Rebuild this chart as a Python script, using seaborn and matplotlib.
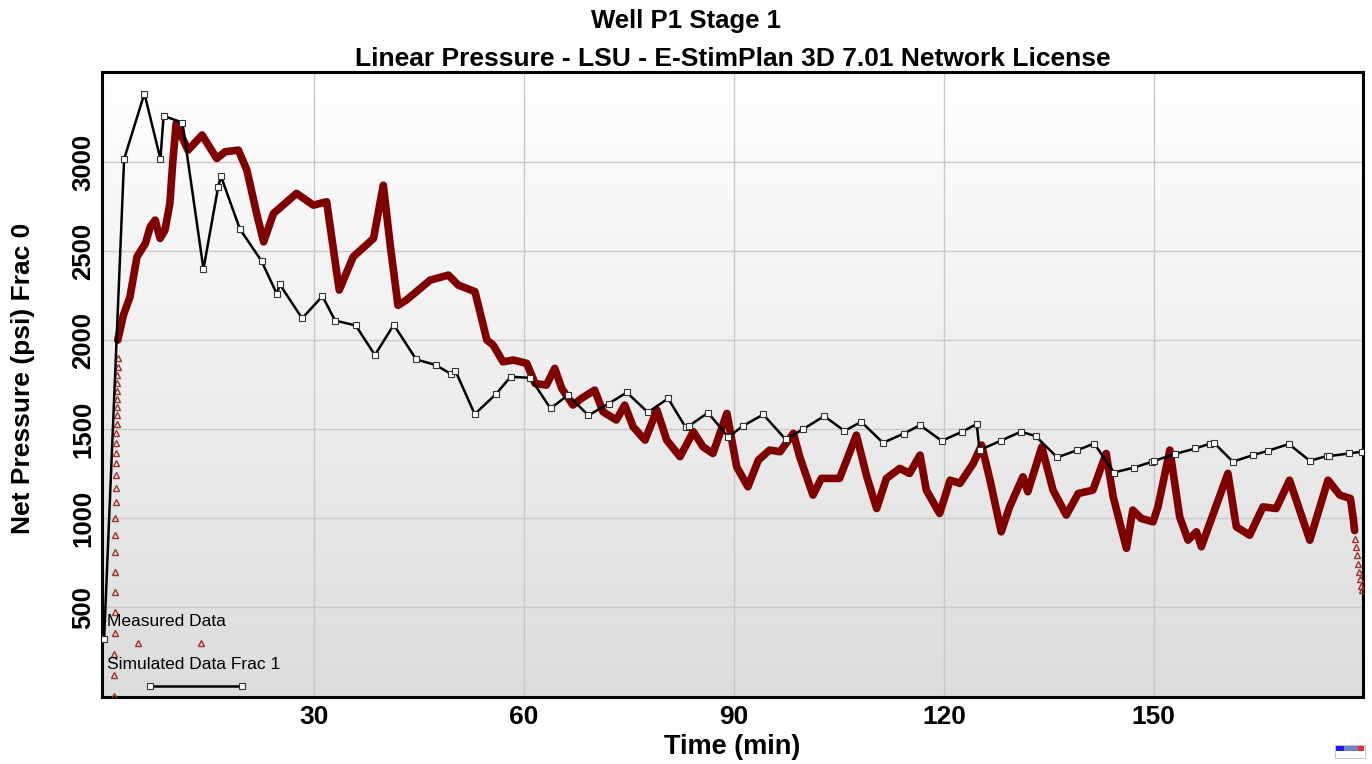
import numpy as np
import pandas as pd
import matplotlib
matplotlib.use("Agg")
import matplotlib.pyplot as plt
from matplotlib.colors import LinearSegmentedColormap
from matplotlib.patches import Rectangle
import seaborn as sns

# measured data - sparse start (triangles only)
meas_start_t = [1.47, 1.47, 1.47, 1.5, 1.5, 1.52, 1.55, 1.57, 1.6, 1.62, 1.64, 1.66, 1.68,
                1.7, 1.72, 1.74, 1.76, 1.78, 1.8, 1.82, 1.84, 1.86, 1.88, 1.9, 1.92, 1.94]
meas_start_p = [0, 118, 236, 354, 472, 584, 698, 807, 904, 998, 1088, 1167, 1242,
                1307, 1367, 1423, 1479, 1526, 1579, 1625, 1667, 1715, 1760, 1805, 1850, 1900]

# measured data - dense part (thick band)
meas_t = [1.95, 2.76, 3.7, 4.7, 5.9, 6.6, 7.3, 8.0, 8.7, 9.4, 9.8, 10.3, 11.1, 12.0, 14.0,
          16.1, 17.3, 19.2, 20.4, 21.8, 22.8, 24.2, 27.5, 29.9, 31.8, 33.6, 35.6, 38.5,
          39.9, 40.9, 42.0, 43.2, 46.6, 49.2, 50.6, 53.0, 54.7, 55.6, 57.0, 58.5, 60.4,
          61.6, 63.2, 64.4, 65.4, 67.0, 68.2, 70.1, 71.3, 73.2, 74.4, 75.6, 77.3, 79.0,
          80.4, 82.3, 84.2, 85.6, 87.0, 89.0, 90.4, 92.0, 93.5, 95.1, 96.6, 98.5, 99.4,
          101.3, 102.5, 105.1, 107.5, 109.0, 110.4, 111.8, 113.7, 115.1, 116.6, 117.5,
          119.4, 120.9, 122.3, 124.2, 125.4, 126.6, 128.2, 129.4, 131.3, 132.0, 134.0,
          135.6, 137.5, 139.2, 141.3, 143.2, 144.2, 146.1, 147.0, 148.2, 149.9, 150.6,
          152.3, 153.7, 154.9, 156.1, 156.8, 158.0, 160.6, 161.8, 163.7, 165.6, 167.5,
          169.4, 172.3, 174.9, 176.6, 178.1, 178.5, 178.7]
meas_p = [2000, 2140, 2243, 2468, 2543, 2637, 2674, 2571, 2618, 2768, 2993, 3217, 3142, 3067, 3152,
          3020, 3058, 3067, 2955, 2711, 2552, 2711, 2824, 2758, 2777, 2281, 2468, 2571,
          2870, 2530, 2195, 2225, 2337, 2365, 2309, 2272, 2000, 1972, 1878, 1888, 1869,
          1756, 1747, 1841, 1728, 1635, 1672, 1719, 1597, 1551, 1635, 1513, 1438, 1607,
          1438, 1345, 1485, 1400, 1363, 1588, 1288, 1176, 1326, 1382, 1373, 1476, 1345,
          1129, 1223, 1223, 1466, 1232, 1054, 1223, 1279, 1251, 1354, 1157,
          1026, 1213, 1195, 1307, 1410, 1213, 923, 1063, 1232, 1148, 1400,
          1157, 1017, 1138, 1157, 1363, 1120, 830, 1045, 998, 979, 1063,
          1382, 1007, 876, 923, 839, 970, 1251, 951, 904, 1063, 1054,
          1213, 876, 1213, 1129, 1110, 1000, 930]

# measured data - falling tail (triangles)
meas_end_t = [178.8, 178.95, 179.1, 179.2, 179.3, 179.45, 179.6, 179.7]
meas_end_p = [880, 840, 790, 740, 700, 660, 620, 596]

# simulated data frac 1
sim_t = [0.0, 2.86, 5.76, 8.05, 8.5, 11.2, 14.2, 16.3, 16.7, 19.4, 22.5, 24.7, 25.1, 28.3,
         31.2, 33.0, 35.96, 38.7, 41.4, 44.6, 47.4, 49.6, 50.2, 52.96, 55.96, 58.1, 60.9,
         63.8, 66.3, 69.2, 72.1, 74.7, 77.7, 80.6, 83.1, 83.6, 86.3, 89.2, 91.3, 94.2,
         97.4, 99.9, 102.9, 105.8, 108.2, 111.3, 114.3, 116.6, 119.7, 122.6, 124.7, 125.1,
         128.1, 131.0, 133.1, 136.2, 139.1, 141.5, 144.3, 147.2, 149.7, 150.1, 153.0,
         155.96, 158.1, 158.6, 161.3, 164.2, 166.3, 169.3, 172.3, 174.7, 175.0, 177.9, 179.7]
sim_p = [320, 3017, 3385, 3017, 3260, 3221, 2399, 2861, 2921, 2624, 2444, 2258, 2313, 2122,
         2247, 2110, 2082, 1916, 2086, 1891, 1860, 1809, 1828, 1584, 1695, 1794, 1788,
         1616, 1691, 1577, 1643, 1706, 1594, 1672, 1510, 1518, 1592, 1455, 1518, 1582,
         1442, 1500, 1573, 1490, 1541, 1423, 1475, 1522, 1434, 1485, 1528, 1382,
         1434, 1485, 1461, 1341, 1382, 1419, 1256, 1284, 1316, 1322, 1360,
         1391, 1419, 1423, 1317, 1354, 1378, 1416, 1322, 1348, 1348, 1363, 1373]

x_ticks = [30, 60, 90, 120, 150]
y_ticks = [500, 1000, 1500, 2000, 2500, 3000]

sns.set_style("white")
plt.rcParams['font.family'] = ['Liberation Sans', 'DejaVu Sans']
plt.rcParams['text.color'] = 'black'
plt.rcParams['axes.labelcolor'] = 'black'
plt.rcParams['xtick.color'] = 'black'
plt.rcParams['ytick.color'] = 'black'

RED = "#800000"
TRI = "#a0302a"

fig = plt.figure(figsize=(13.72, 7.64), dpi=100)
ax = fig.add_axes([102 / 1372, 67 / 764, 1261 / 1372, 625 / 764])

# gradient background
grad = LinearSegmentedColormap.from_list("bg", ["#dcdcdc", "#ffffff"])
ax.imshow(np.linspace(0, 1, 256)[:, None], extent=[0, 1, 0, 1], transform=ax.transAxes,
          cmap=grad, aspect="auto", origin="lower", zorder=0)

meas_df = pd.DataFrame({"t": meas_t, "p": meas_p})
sim_df = pd.DataFrame({"t": sim_t, "p": sim_p})

sns.lineplot(data=meas_df, x="t", y="p", sort=False, estimator=None, color=RED,
             linewidth=5.5, ax=ax, zorder=3)
ax.plot(meas_start_t, meas_start_p, linestyle="none", marker="^", markersize=5,
        markerfacecolor="none", markeredgecolor=TRI, markeredgewidth=1.0, zorder=3)
ax.plot(meas_end_t, meas_end_p, linestyle="none", marker="^", markersize=5,
        markerfacecolor="none", markeredgecolor=TRI, markeredgewidth=1.0, zorder=3)
sns.lineplot(data=sim_df, x="t", y="p", sort=False, estimator=None, color="black",
             linewidth=1.8, marker="s", markersize=4.5, markerfacecolor="white",
             markeredgecolor="#333333", markeredgewidth=0.8, ax=ax, zorder=4)

ax.set_xlim(-0.3, 179.9)
ax.set_ylim(-5, 3506)

# in-plot legend
ax.text(0.4, 420, "Measured Data", fontsize=12.5, ha="left", va="center", zorder=5)
ax.plot([4.86, 13.86], [298, 298], linestyle="none", marker="^", markersize=5,
        markerfacecolor="none", markeredgecolor=TRI, markeredgewidth=1.0, zorder=5)
ax.text(0.4, 180, "Simulated Data Frac 1", fontsize=12.5, ha="left", va="center", zorder=5)
ax.plot([6.57, 19.7], [56, 56], color="black", linewidth=1.8, marker="s", markersize=4.5,
        markerfacecolor="white", markeredgecolor="#333333", markeredgewidth=0.8, zorder=5)

ax.set_xticks(x_ticks)
ax.set_yticks(y_ticks)
ax.set_xticklabels([str(v) for v in x_ticks], fontsize=19, fontweight="bold")
ax.set_yticklabels([str(v) for v in y_ticks], fontsize=18.5, fontweight="bold",
                   rotation=90, va="center")
ax.tick_params(axis="both", length=0)
ax.tick_params(axis="x", pad=6)
ax.tick_params(axis="y", pad=5)
ax.set_axisbelow(True)
ax.grid(True, color="#c8c8c8", linewidth=1.0)
for sp in ax.spines.values():
    sp.set_linewidth(2.2)
    sp.set_color("black")

ax.set_xlabel("Time (min)", fontsize=19.5, fontweight="bold", labelpad=3)
ax.set_ylabel("Net Pressure (psi) Frac 0", fontsize=19, fontweight="bold")
ax.yaxis.set_label_coords(-0.053, 0.51)

fig.text(0.5, 1 - 21 / 764, "Well P1 Stage 1", ha="center", va="center",
         fontsize=18.5, fontweight="bold")
ax.set_title("Linear Pressure - LSU - E-StimPlan 3D 7.01 Network License",
             fontsize=19, fontweight="bold", pad=4)

# tiny logo bottom right
fig.patches.append(Rectangle((1335 / 1372, 6 / 764), 30 / 1372, 13 / 764, transform=fig.transFigure,
                             facecolor="white", edgecolor="#aaaaaa", linewidth=0.5))
fig.patches.append(Rectangle((1336 / 1372, 13 / 764), 8 / 1372, 5 / 764, transform=fig.transFigure,
                             facecolor="#1a1aff", edgecolor="none"))
fig.patches.append(Rectangle((1344 / 1372, 13 / 764), 14 / 1372, 5 / 764, transform=fig.transFigure,
                             facecolor="#7080c0", edgecolor="none"))
fig.patches.append(Rectangle((1358 / 1372, 13 / 764), 6 / 1372, 5 / 764, transform=fig.transFigure,
                             facecolor="#e03030", edgecolor="none"))

fig.savefig("out.png", dpi=100)
